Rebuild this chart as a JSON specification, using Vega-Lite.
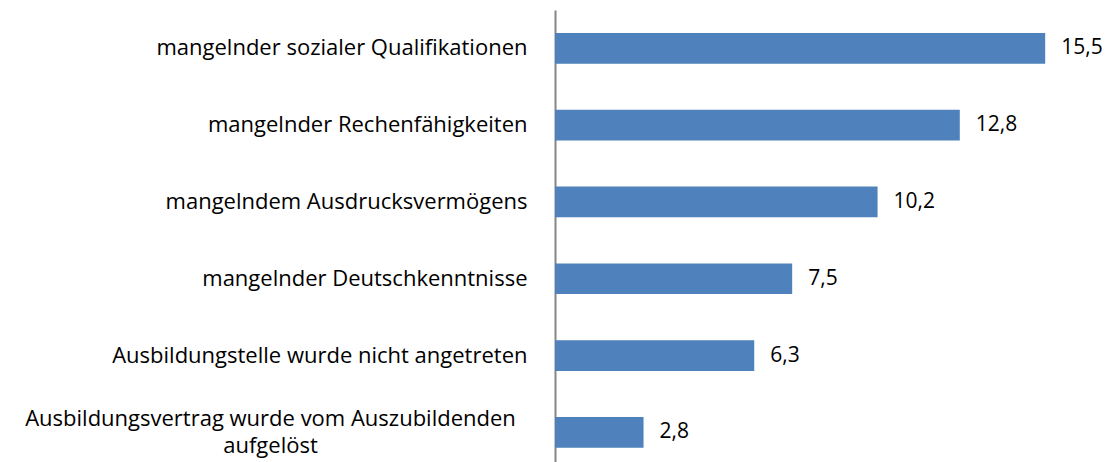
{
  "$schema": "https://vega.github.io/schema/vega-lite/v6.json",
  "width": 506,
  "height": 452,
  "autosize": {"type": "none"},
  "padding": {"left": 555, "top": 10, "right": 48, "bottom": 0},
  "background": "white",
  "config": {
    "view": {"stroke": null},
    "locale": {"number": {"decimal": ",", "thousands": ".", "grouping": [3], "currency": ["", " €"]}},
    "text": {"font": "Open Sans"}
  },
  "data": {
    "values": [
      {"grund": "mangelnder sozialer Qualifikationen", "wert": 15.5},
      {"grund": "mangelnder Rechenfähigkeiten", "wert": 12.8},
      {"grund": "mangelndem Ausdrucksvermögens", "wert": 10.2},
      {"grund": "mangelnder Deutschkenntnisse", "wert": 7.5},
      {"grund": "Ausbildungstelle wurde nicht angetreten", "wert": 6.3},
      {"grund": "Ausbildungsvertrag wurde vom Auszubildenden aufgelöst", "wert": 2.8}
    ]
  },
  "encoding": {
    "y": {
      "field": "grund",
      "type": "nominal",
      "sort": null,
      "scale": {"paddingInner": 0.6, "paddingOuter": 0.2428, "align": 0.617},
      "axis": {
        "title": null,
        "ticks": false,
        "domainColor": "#868686",
        "domainWidth": 2,
        "labelFont": "Open Sans",
        "labelFontSize": 22,
        "labelColor": "#000000",
        "labelLimit": 0,
        "labelLineHeight": 27,
        "labelBaseline": "middle",
        "labelExpr": "datum.value == 'Ausbildungsvertrag wurde vom Auszubildenden aufgelöst' ? ['Ausbildungsvertrag wurde vom Auszubildenden', 'aufgelöst'] : datum.value",
        "labelAlign": {"condition": {"test": "datum.value == 'Ausbildungsvertrag wurde vom Auszubildenden aufgelöst'", "value": "center"}, "value": "right"},
        "labelPadding": {"condition": {"test": "datum.value == 'Ausbildungsvertrag wurde vom Auszubildenden aufgelöst'", "value": 285}, "value": 28},
        "labelOffset": {"condition": {"test": "datum.value == 'Ausbildungsvertrag wurde vom Auszubildenden aufgelöst'", "value": -13.5}, "value": 0}
      }
    },
    "x": {
      "field": "wert",
      "type": "quantitative",
      "scale": {"domain": [0, 16], "nice": false},
      "axis": null
    }
  },
  "layer": [
    {"mark": {"type": "bar", "color": "#4F81BD"}},
    {
      "mark": {"type": "text", "align": "left", "baseline": "middle", "dx": 16, "fontSize": 21, "color": "#000000", "font": "Open Sans"},
      "encoding": {"text": {"field": "wert", "type": "quantitative", "format": ".1f"}}
    }
  ]
}
